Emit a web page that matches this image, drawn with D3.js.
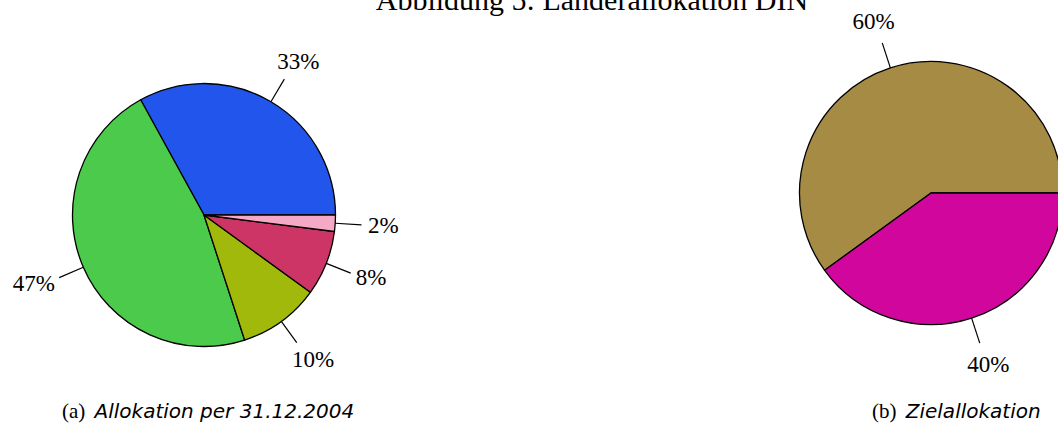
<!DOCTYPE html>
<html>
<head>
<meta charset="utf-8">
<script src="https://cdn.jsdelivr.net/npm/d3@7"></script>
<style>
body { margin: 0; background: #fff; }
svg { display: block; }
</style>
</head>
<body>
<div id="chart"></div>
<script>
var title = 'Abbildung 5: Länderallokation DIN';

var labelsA = ['33%', '47%', '10%', '8%', '2%'];
var valuesA = [33, 47, 10, 8, 2];
var colorsA = ['#2155eb', '#4bca4b', '#a0b90a', '#cc3566', '#f5a9c6'];

var labelsB = ['60%', '40%'];
var valuesB = [60, 40];
var colorsB = ['#a68b44', '#d1069c'];

var capTags = ['(a)', '(b)'];
var capTexts = ['Allokation per 31.12.2004', 'Zielallokation'];

var width = 1058, height = 435;
var r = 131.5;

var svg = d3.select('#chart').append('svg')
    .attr('width', width)
    .attr('height', height);

// title, mostly cut off at the top like in the original
svg.append('text')
    .attr('x', 592)
    .attr('y', 10)
    .attr('text-anchor', 'middle')
    .style('font-family', '"Liberation Serif", serif')
    .style('font-size', '30px')
    .text(title);

// R style pie: counter clockwise from 3 o'clock
var pie = d3.pie()
    .sort(null)
    .startAngle(Math.PI / 2)
    .endAngle(Math.PI / 2 - 2 * Math.PI);

var arc = d3.arc().innerRadius(0).outerRadius(r);

function drawPie(cx, cy, values, labels, colors) {
    var g = svg.append('g')
        .attr('transform', 'translate(' + cx + ',' + cy + ')');
    var arcs = pie(values);

    g.selectAll('path.slice')
        .data(arcs)
        .enter()
        .append('path')
        .attr('class', 'slice')
        .attr('d', arc)
        .attr('fill', function(d, i) { return colors[i]; })
        .attr('stroke', 'black')
        .attr('stroke-width', 1.3)
        .attr('stroke-linejoin', 'round');

    arcs.forEach(function(d, i) {
        var a = (d.startAngle + d.endAngle) / 2;
        var c = Math.sin(a), s = Math.cos(a);  // s > 0 means up
        g.append('line')
            .attr('x1', c * r).attr('y1', -s * r)
            .attr('x2', c * r * 1.2).attr('y2', -s * r * 1.2)
            .attr('stroke', 'black')
            .attr('stroke-width', 1.2);
        var t = g.append('text')
            .attr('text-anchor', 'middle')
            .attr('dy', '0.33em')
            .style('font-family', '"Liberation Serif", serif')
            .style('font-size', '23px')
            .text(labels[i]);
        var hw = t.node().getComputedTextLength() / 2;
        t.attr('x', c * (1.25 * r + hw))
         .attr('y', -s * 1.25 * r - Math.sign(s) * 17 * s * s);
    });
}

drawPie(204, 215, valuesA, labelsA, colorsA);
drawPie(931, 193, valuesB, labelsB, colorsB);

// sub captions
var capX = [62, 872];
capTags.forEach(function(tag, i) {
    var t = svg.append('text')
        .attr('x', capX[i])
        .attr('y', 418)
        .style('font-size', '21px');
    t.append('tspan')
        .style('font-family', '"Liberation Serif", serif')
        .text(tag + ' ');
    t.append('tspan')
        .attr('dx', 4)
        .style('font-family', '"DejaVu Sans", sans-serif')
        .style('font-style', 'italic')
        .style('font-size', '20px')
        .text(capTexts[i]);
});
</script>
</body>
</html>
